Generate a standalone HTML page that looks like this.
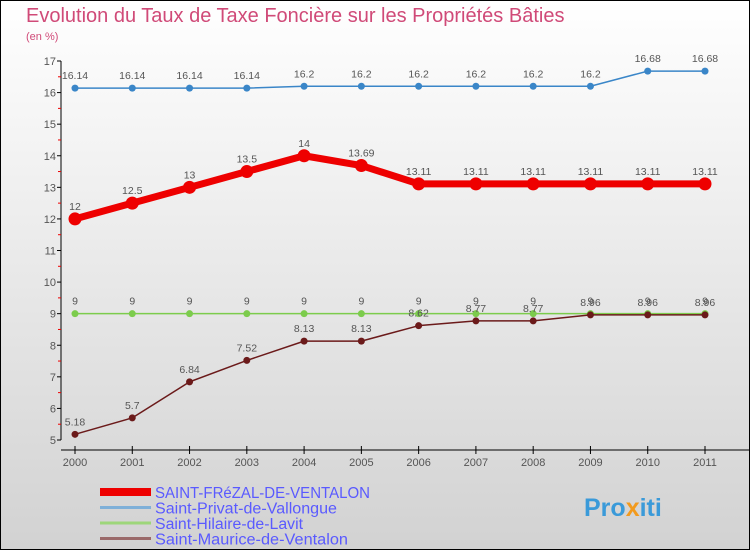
<!DOCTYPE html>
<html><head><meta charset="utf-8"><style>
body{margin:0}
svg{display:block;font-family:"Liberation Sans","DejaVu Sans",sans-serif}
</style></head><body>
<svg width="750" height="550" xmlns="http://www.w3.org/2000/svg">
<defs><linearGradient id="bg" x1="0" y1="0" x2="0" y2="1"><stop offset="0" stop-color="#ffffff"/><stop offset="1" stop-color="#d2d2d2"/></linearGradient></defs>
<rect x="0.5" y="0.5" width="749" height="549" fill="url(#bg)" stroke="#000"/>
<text x="26" y="22" font-size="20" fill="#d04a78">Evolution du Taux de Taxe Foncière sur les Propriétés Bâties</text>
<text x="26" y="40" font-size="11" fill="#d04a78">(en %)</text>
<g id="axes"></g>
<g id="series"></g>
<g id="legend"></g>
<text x="584" y="516" font-size="25" font-weight="bold" fill="#3a9ad9">Pro<tspan fill="#f29a1d">x</tspan>iti</text>
<script>
const years=[2000,2001,2002,2003,2004,2005,2006,2007,2008,2009,2010,2011];
const yTicks=[5,6,7,8,9,10,11,12,13,14,15,16,17];
const frezal=[12,12.5,13,13.5,14,13.69,13.11,13.11,13.11,13.11,13.11,13.11];
const privat=[16.14,16.14,16.14,16.14,16.2,16.2,16.2,16.2,16.2,16.2,16.68,16.68];
const hilaire=[9,9,9,9,9,9,9,9,9,9,9,9];
const maurice=[5.18,5.7,6.84,7.52,8.13,8.13,8.62,8.77,8.77,8.96,8.96,8.96];
const seriesNames=["SAINT-FRéZAL-DE-VENTALON","Saint-Privat-de-Vallongue","Saint-Hilaire-de-Lavit","Saint-Maurice-de-Ventalon"];
const NS="http://www.w3.org/2000/svg";
const X=i=>75+i*(630/11);
const Y=v=>440-(v-5)*(379/12);
function mk(tag,attrs,parent){const e=document.createElementNS(NS,tag);for(const k in attrs)e.setAttribute(k,attrs[k]);parent.appendChild(e);return e;}
const ax=document.getElementById('axes');
let a=mk('line',{x1:61,y1:Y(17),x2:61,y2:440,stroke:'#000'},ax);


a=mk('line',{x1:61,y1:450,x2:750,y2:450,stroke:'#000'},ax);


yTicks.forEach(v=>{
 let t=mk('line',{x1:57,y1:Y(v),x2:61,y2:Y(v),stroke:'#000'},ax);
 
 
 if(v<17){let m=mk('line',{x1:58,y1:Y(v+0.5),x2:61,y2:Y(v+0.5),stroke:'#e00'},ax);
 
 }
 let l=mk('text',{x:56,y:Y(v)+4,'font-size':11,fill:'#555','text-anchor':'end'},ax);l.textContent=v;
 
 
});
years.forEach((y,i)=>{
 let t=mk('line',{x1:X(i),y1:446,x2:X(i),y2:454,stroke:'#000'},ax);
 
 
 let l=mk('text',{x:X(i),y:466,'font-size':11,fill:'#555','text-anchor':'middle'},ax);l.textContent=y;
 
 
});
const sg=document.getElementById('series');
function draw(vals,color,w,r,name){
 const g=mk('g',{},sg);
 
 
 let p=mk('polyline',{points:vals.map((v,i)=>X(i)+','+Y(v)).join(' '),fill:'none',stroke:color,'stroke-width':w,'stroke-linejoin':'round'},g);
 
 
 vals.forEach((v,i)=>{
  let c=mk('circle',{cx:X(i),cy:Y(v),r:r,fill:color},g);
  
  
  let t=mk('text',{x:X(i),y:Y(v)-9,'font-size':10.5,fill:'#555','text-anchor':'middle'},g);
  t.textContent=v;
  
  
 });
}
draw(privat,'#3a86c8',1.5,3.5,'privat-series');
draw(hilaire,'#7ccc4c',1.5,3.5,'hilaire-series');
draw(maurice,'#6b1a1a',1.5,3.5,'maurice-series');
draw(frezal,'#ee0000',7,6.5,'frezal-series');
const lg=document.getElementById('legend');
const lcol=['#ee0000','#7fb0d8','#9dd67a','#9a6a6a'];
const lw=[8,3,3,3];
seriesNames.forEach((n,i)=>{
 const y=492+i*15.5;
 let l=mk('line',{x1:100,y1:y,x2:151,y2:y,stroke:lcol[i],'stroke-width':lw[i]},lg);
 
 
 let t=mk('text',{x:155,y:y+6,'font-size':15.5,fill:'#5a5aff',textLength:i==0?215:(i==1?182:(i==2?148:193)),lengthAdjust:'spacingAndGlyphs'},lg);
 t.textContent=n;
 
 
});
</script>
</svg>
</body></html>
